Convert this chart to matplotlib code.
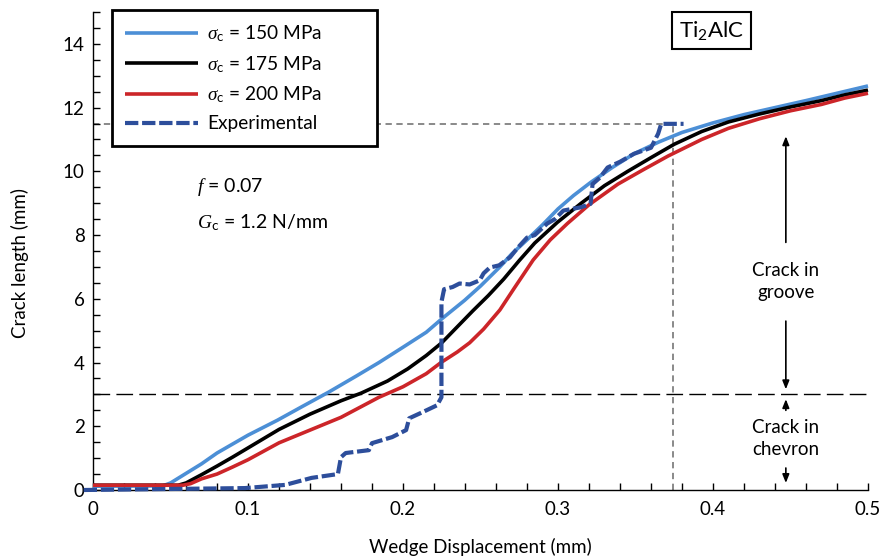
import matplotlib
matplotlib.use("Agg")
import matplotlib.pyplot as plt
from matplotlib.ticker import MultipleLocator

plt.rcParams['font.family'] = ['Lato', 'DejaVu Sans']
plt.rcParams['mathtext.fontset'] = 'custom'
plt.rcParams['mathtext.rm'] = 'Lato'
plt.rcParams['mathtext.it'] = 'Liberation Serif:italic'
plt.rcParams['mathtext.bf'] = 'Lato:bold'
plt.rcParams['mathtext.sf'] = 'Lato'

# ---------------- data ----------------
x_150 = [0, 0.045, 0.050, 0.060, 0.070, 0.080, 0.100, 0.119, 0.135, 0.152, 0.170,
         0.1845, 0.200, 0.215, 0.2255, 0.2397, 0.250, 0.2625, 0.270, 0.280, 0.290,
         0.300, 0.310, 0.321, 0.335, 0.349, 0.365, 0.380, 0.400, 0.420, 0.440,
         0.460, 0.480, 0.500]
y_150 = [0.12, 0.13, 0.22, 0.52, 0.82, 1.16, 1.72, 2.19, 2.62, 3.07, 3.58,
         4.00, 4.48, 4.95, 5.39, 5.95, 6.40, 7.00, 7.40, 7.85, 8.32,
         8.82, 9.24, 9.65, 10.12, 10.55, 10.92, 11.22, 11.52, 11.78, 12.00,
         12.22, 12.45, 12.68]

x_175 = [0, 0.055, 0.060, 0.070, 0.080, 0.090, 0.100, 0.120, 0.140, 0.160, 0.173,
         0.190, 0.203, 0.215, 0.225, 0.235, 0.245, 0.255, 0.265, 0.275, 0.285,
         0.2996, 0.315, 0.330, 0.345, 0.360, 0.375, 0.3927, 0.410, 0.430, 0.450,
         0.470, 0.485, 0.500]
y_175 = [0.15, 0.15, 0.22, 0.48, 0.75, 1.03, 1.32, 1.90, 2.38, 2.80, 3.04,
         3.42, 3.80, 4.22, 4.62, 5.12, 5.62, 6.10, 6.62, 7.20, 7.75,
         8.40, 9.00, 9.55, 10.00, 10.43, 10.85, 11.25, 11.55, 11.80, 12.02,
         12.22, 12.40, 12.55]

x_200 = [0, 0.058, 0.063, 0.070, 0.080, 0.090, 0.100, 0.120, 0.140, 0.160, 0.1845,
         0.200, 0.215, 0.2245, 0.235, 0.243, 0.252, 0.2625, 0.272, 0.284, 0.295,
         0.306, 0.320, 0.3387, 0.355, 0.371, 0.3927, 0.410, 0.430, 0.450, 0.470,
         0.485, 0.500]
y_200 = [0.15, 0.15, 0.20, 0.35, 0.50, 0.72, 0.95, 1.48, 1.88, 2.28, 2.91,
         3.24, 3.65, 4.00, 4.33, 4.62, 5.05, 5.65, 6.35, 7.22, 7.85,
         8.36, 8.95, 9.60, 10.05, 10.48, 11.00, 11.35, 11.65, 11.90, 12.10,
         12.30, 12.45]

x_exp = [-0.006, 0.098, 0.124, 0.141, 0.158, 0.160, 0.163, 0.178, 0.180, 0.193, 0.202,
         0.204, 0.2125, 0.222, 0.2248, 0.2248, 0.2265, 0.232, 0.2365, 0.243, 0.2495,
         0.252, 0.256, 0.262, 0.269, 0.274, 0.280, 0.285, 0.293, 0.298, 0.3035,
         0.3146, 0.321, 0.3223, 0.327, 0.332, 0.340, 0.349, 0.360, 0.3646, 0.3666,
         0.381]
y_exp = [0.0, 0.06, 0.16, 0.38, 0.50, 1.03, 1.16, 1.25, 1.47, 1.66, 1.88,
         2.25, 2.44, 2.66, 2.91, 5.90, 6.30, 6.37, 6.48, 6.45, 6.58,
         6.80, 6.98, 7.05, 7.30, 7.60, 7.92, 8.00, 8.36, 8.50, 8.77,
         8.87, 8.98, 9.60, 9.80, 10.12, 10.30, 10.55, 10.74, 11.18, 11.49,
         11.49]

labels = [r'$\sigma_{\mathrm{c}}$ = 150 MPa', r'$\sigma_{\mathrm{c}}$ = 175 MPa',
          r'$\sigma_{\mathrm{c}}$ = 200 MPa', 'Experimental']
x_ticks = [0, 0.1, 0.2, 0.3, 0.4, 0.5]
x_ticklabels = ['0', '0.1', '0.2', '0.3', '0.4', '0.5']
y_ticks = [0, 2, 4, 6, 8, 10, 12, 14]

groove_level = 3.0      # chevron / groove boundary
final_crack = 11.49     # final experimental crack length
final_disp = 0.374      # displacement at final crack length
annot_x = 0.447

# ---------------- figure ----------------
W, H = 881, 559
fig = plt.figure(figsize=(W / 100, H / 100), dpi=100)
ax = fig.add_axes([93 / W, (H - 490) / H, (868 - 93) / W, (490 - 12) / H])

c_blue = '#4C8FD6'
c_red = '#CC2529'
c_exp = '#2D4E9B'

# reference lines
ax.plot([0, 0.5], [groove_level, groove_level], color='black', lw=1.0,
        dashes=(12, 4.5), zorder=1)
ax.plot([0, final_disp], [final_crack, final_crack], color='#808080', lw=1.3,
        dashes=(3.5, 2.5), zorder=1)
ax.plot([final_disp, final_disp], [0, final_crack], color='#808080', lw=1.3,
        dashes=(3.5, 2.5), zorder=1)

l1, = ax.plot(x_150, y_150, color=c_blue, lw=2.6, clip_on=False, zorder=3,
              solid_capstyle='butt', solid_joinstyle='round')
l2, = ax.plot(x_175, y_175, color='black', lw=2.6, clip_on=False, zorder=3,
              solid_capstyle='butt', solid_joinstyle='round')
l3, = ax.plot(x_200, y_200, color=c_red, lw=2.6, clip_on=False, zorder=3,
              solid_capstyle='butt', solid_joinstyle='round')
l4, = ax.plot(x_exp, y_exp, color=c_exp, lw=3.0, dashes=(3.2, 0.9),
              clip_on=False, zorder=4)

ax.set_xlim(0, 0.5)
ax.set_ylim(0, 15)
ax.set_xticks(x_ticks)
ax.set_xticklabels(x_ticklabels)
ax.set_yticks(y_ticks)
ax.xaxis.set_minor_locator(MultipleLocator(0.02))
ax.yaxis.set_minor_locator(MultipleLocator(0.5))
ax.tick_params(which='both', direction='in', length=5, width=1, color='black',
               labelsize=13.5)
ax.tick_params(axis='x', which='both', pad=8)
ax.tick_params(axis='y', which='both', pad=6)
for s in ['top', 'right']:
    ax.spines[s].set_visible(False)
for s in ['left', 'bottom']:
    ax.spines[s].set_linewidth(1.0)

ax.set_xlabel('Wedge Displacement (mm)', fontsize=13.5)
ax.set_ylabel('Crack length (mm)', fontsize=13.5)
ax.xaxis.set_label_coords(0.5, -0.1)
ax.yaxis.set_label_coords(-0.083, 0.475)

# legend
leg = ax.legend([l1, l2, l3, l4], labels, loc='upper left',
                bbox_to_anchor=(112 / W, (H - 137) / H, 265 / W, 127 / H),
                bbox_transform=fig.transFigure, mode='expand', borderaxespad=0,
                fontsize=13.8, handlelength=3.8, handletextpad=0.45,
                labelspacing=0.52, borderpad=0.7, fancybox=False,
                framealpha=1, edgecolor='black')
leg.get_frame().set_linewidth(2.0)

# annotations
ax.text(0.067, 9.5, r'$f$ = 0.07', fontsize=14, ha='left', va='center')
ax.text(0.067, 8.4, r'$G_{\mathrm{c}}$ = 1.2 N/mm', fontsize=14, ha='left',
        va='center')
ax.text(0.399, 14.42, r'Ti$_2$AlC', fontsize=16, ha='center', va='center',
        bbox=dict(boxstyle='square,pad=0.3', fc='white', ec='black', lw=1.5))

arrow_kw = dict(arrowstyle='-|>,head_length=0.5,head_width=0.2', lw=1.2,
                color='black', shrinkA=0, shrinkB=0)
ax.annotate('', xy=(annot_x, 11.1), xytext=(annot_x, 7.77), arrowprops=arrow_kw)
ax.annotate('', xy=(annot_x, 3.16), xytext=(annot_x, 5.3), arrowprops=arrow_kw)
ax.annotate('', xy=(annot_x, 2.85), xytext=(annot_x, 2.5), arrowprops=arrow_kw)
ax.annotate('', xy=(annot_x, 0.22), xytext=(annot_x, 0.69), arrowprops=arrow_kw)
ax.text(annot_x, 6.55, 'Crack in\ngroove', fontsize=13.5, ha='center', va='center',
        linespacing=1.35)
ax.text(annot_x, 1.63, 'Crack in\nchevron', fontsize=13.5, ha='center', va='center',
        linespacing=1.35)

fig.savefig('out.png', dpi=100)
